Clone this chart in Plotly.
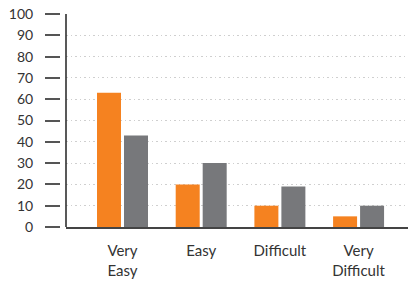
import plotly.graph_objects as go

categories = ["Very<br>Easy", "Easy", "Difficult", "Very<br>Difficult"]
series_a = [63, 20, 10, 5]
series_b = [43, 30, 19, 10]
y_ticks = [0, 10, 20, 30, 40, 50, 60, 70, 80, 90, 100]

ORANGE = "#F58220"
GRAY = "#77787B"

fig = go.Figure()
fig.add_trace(go.Bar(x=categories, y=series_a, marker=dict(color=ORANGE, line=dict(width=0)), showlegend=False))
fig.add_trace(go.Bar(x=categories, y=series_b, marker=dict(color=GRAY, line=dict(width=0)), showlegend=False))

dom0 = 6 / 348
fig.update_layout(
    width=408, height=284,
    margin=dict(l=60, r=0, t=14, b=57, pad=0, autoexpand=False),
    paper_bgcolor="white", plot_bgcolor="white",
    font=dict(family="Lato, sans-serif", color="#333"),
    barmode="group", bargap=0.314, bargroupgap=0.111,
    xaxis=dict(domain=[dom0, 1], range=[-0.718, 3.628], showgrid=False,
               showline=True, linecolor="#444", linewidth=2, ticks="",
               tickfont=dict(size=15, color="#333"), ticklabelstandoff=9,
               automargin=False, fixedrange=True),
    yaxis=dict(anchor="free", position=0, range=[0, 100], tickvals=y_ticks,
               showline=False, ticks="outside", ticklen=15, tickwidth=1.5,
               tickcolor="#555", showgrid=True, gridcolor="#cfcfcf",
               griddash="1.5px,3px", gridwidth=1, zeroline=False,
               automargin=False, fixedrange=True,
               tickfont=dict(size=14, color="#333"), ticklabelstandoff=9),
    shapes=[dict(type="line", xref="paper", yref="paper", x0=dom0, x1=dom0,
                 y0=0, y1=1, line=dict(color="#222", width=1.5))],
)

fig.write_html("out.html", config={"displayModeBar": False},
               post_script="document.body.style.margin='0';document.body.style.padding='0';")
